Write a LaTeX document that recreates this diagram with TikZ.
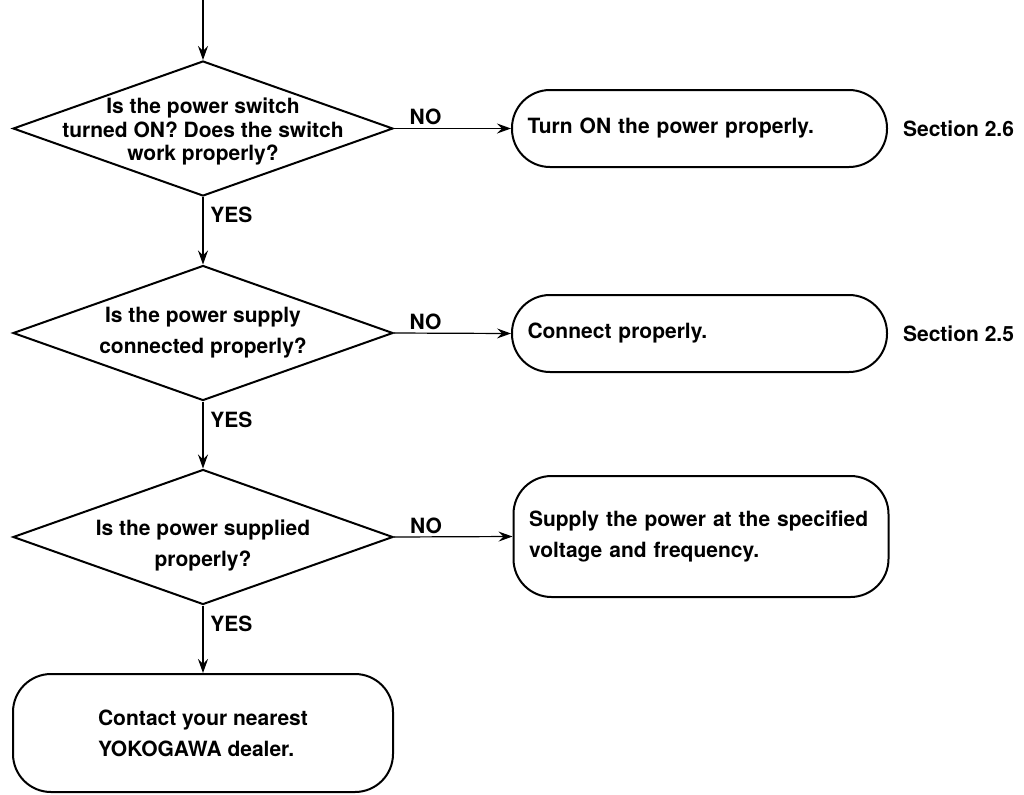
\documentclass[tikz,border=0pt]{standalone}
\usepackage{fontspec}
\setmainfont{TeX Gyre Heros}
\usetikzlibrary{arrows.meta,positioning,shapes.geometric}

\begin{document}
\begin{tikzpicture}[x=0.5pt, y=-0.5pt,
  every node/.style={font=\bfseries\fontsize{10.5}{15.5}\selectfont},
  decision/.style={diamond, draw, line width=1pt, minimum width=190pt,
    minimum height=67.5pt, inner sep=0pt},
  qtext/.style={align=center, inner sep=0pt},
  box/.style={draw, line width=1pt, rounded corners=19pt},
  action/.style={box, minimum height=38.5pt, text width=172pt,
    inner xsep=7.75pt, align=left},
  flow/.style={line width=0.6pt, -{Stealth[length=7pt, width=5pt, inset=2.5pt]}},
  nolabel/.style={above, pos=0.27, inner sep=1.5pt},
  yeslabel/.style={right, pos=0.27}]
\useasboundingbox (0,0) rectangle (1024,794);
\coordinate (top) at (203,0);
% questions
\node[decision] (d1) at (203,128.5) {};
\node[qtext, font=\bfseries\fontsize{10.5}{11.75}\selectfont] (t1) at ([yshift=-1.5pt]d1.center)
  {Is the power switch\\turned ON? Does the switch\\work properly?};
\node[decision] (d2) at (203,333) {};
\node[qtext] (t2) at (d2.center) {Is the power supply\\connected properly?};
\node[decision] (d3) at (203,537) {};
\node[qtext] (t3) at ([yshift=-4pt]d3.center) {Is the power supplied\\properly?};
% remedies
\node[action] (b1) at (699.5,128.5) {Turn ON the power properly.};
\node[action] (b2) at (699.5,333.5) {Connect properly.};
\node[action, minimum height=60.5pt] (b3) at (701,536.5)
  {Supply the power at the specified\\voltage and frequency.};
\node[box, minimum width=190pt, minimum height=59pt, align=left] (b4) at (203,733)
  {Contact your nearest\\YOKOGAWA dealer.};
\node[right=4pt of b1] (s1) {Section 2.6};
\node[right=4pt of b2] (s2) {Section 2.5};
% connectors
\draw[flow] (top) -- (d1.north);
\draw[flow] (d1.east) -- node[nolabel] {NO} (b1.west);
\draw[flow] (d2.east) -- node[nolabel] {NO} (b2.west);
\draw[flow] (d3.east) -- node[nolabel] {NO} (b3.west);
\draw[flow] (d1.south) -- node[yeslabel] {YES} (d2.north);
\draw[flow] (d2.south) -- node[yeslabel] {YES} (d3.north);
\draw[flow] (d3.south) -- node[yeslabel] {YES} (b4.north);
\end{tikzpicture}
\end{document}
